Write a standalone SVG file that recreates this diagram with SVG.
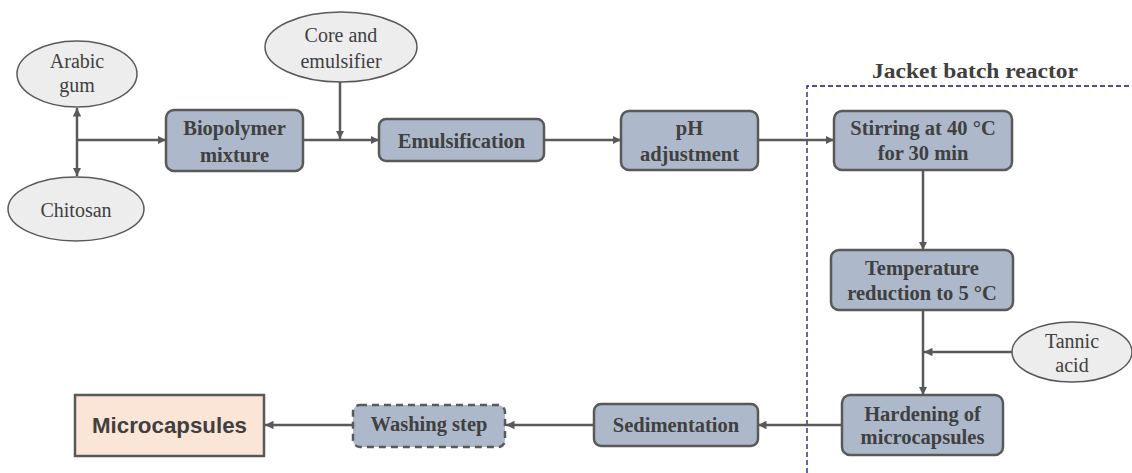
<svg xmlns="http://www.w3.org/2000/svg" width="1132" height="473" viewBox="0 0 1132 473">
<style>
.box{fill:#ADB9CA;stroke:#595959;stroke-width:2.5}
.ell{fill:#EDEDED;stroke:#595959;stroke-width:1.5}
.bt{font-family:"Liberation Serif",serif;font-weight:bold;font-size:20.5px;fill:#404040;text-anchor:middle}
.et{font-family:"Liberation Serif",serif;font-size:20px;fill:#404040;text-anchor:middle}
.c{stroke:#595959;stroke-width:2.5;fill:none}
</style>
<defs>
<marker id="ah" viewBox="0 0 10 10" refX="10" refY="5" markerWidth="3.4" markerHeight="3.4" orient="auto-start-reverse" markerUnits="strokeWidth">
<path d="M0,0 L10,5 L0,10 z" fill="#595959"/>
</marker>
</defs>
<rect width="1132" height="473" fill="#ffffff"/>
<g id="reactor">
<path d="M807,473 V86 H1132" fill="none" stroke="#14148A" stroke-width="1.3" stroke-dasharray="5,3"/>
<text x="975" y="78" font-family="'Liberation Serif',serif" font-weight="bold" font-size="22px" fill="#404040" text-anchor="middle" textLength="206" lengthAdjust="spacingAndGlyphs">Jacket batch reactor</text>
</g>
<g id="connectors">
<line class="c" x1="77" y1="140" x2="77" y2="108" marker-end="url(#ah)"/>
<line class="c" x1="77" y1="140" x2="77" y2="176" marker-end="url(#ah)"/>
<line class="c" x1="77" y1="140" x2="166" y2="140" marker-end="url(#ah)"/>
<line class="c" x1="303" y1="140" x2="379" y2="140" marker-end="url(#ah)"/>
<line class="c" x1="340" y1="82" x2="340" y2="139" marker-end="url(#ah)"/>
<line class="c" x1="544" y1="140" x2="621" y2="140" marker-end="url(#ah)"/>
<line class="c" x1="758" y1="140" x2="834" y2="140" marker-end="url(#ah)"/>
<line class="c" x1="923" y1="170" x2="923" y2="250" marker-end="url(#ah)"/>
<line class="c" x1="923" y1="310" x2="923" y2="395" marker-end="url(#ah)"/>
<line class="c" x1="1012" y1="352" x2="924" y2="352" marker-end="url(#ah)"/>
<line class="c" x1="842" y1="425" x2="758" y2="425" marker-end="url(#ah)"/>
<line class="c" x1="594" y1="425" x2="506" y2="425" marker-end="url(#ah)"/>
<line class="c" x1="353" y1="425" x2="265" y2="425" marker-end="url(#ah)"/>
</g>
<g id="arabic">
<ellipse class="ell" cx="77" cy="74" rx="60" ry="33"/>
<text class="et" x="77" y="68">Arabic</text>
<text class="et" x="77" y="92">gum</text>
</g>
<g id="chitosan">
<ellipse class="ell" cx="76" cy="209" rx="68" ry="32"/>
<text class="et" x="76" y="217">Chitosan</text>
</g>
<g id="core">
<ellipse class="ell" cx="341" cy="47" rx="76" ry="35"/>
<text class="et" x="341" y="42">Core and</text>
<text class="et" x="341" y="68">emulsifier</text>
</g>
<g id="biopolymer">
<rect class="box" x="166" y="110" width="137" height="61" rx="8"/>
<text class="bt" x="234.5" y="135">Biopolymer</text>
<text class="bt" x="234.5" y="162">mixture</text>
</g>
<g id="emulsification">
<rect class="box" x="379" y="119" width="165" height="42" rx="7"/>
<text class="bt" x="461.5" y="148">Emulsification</text>
</g>
<g id="ph">
<rect class="box" x="621" y="111" width="137" height="59" rx="8"/>
<text class="bt" x="689.5" y="135">pH</text>
<text class="bt" x="689.5" y="161">adjustment</text>
</g>
<g id="stirring">
<rect class="box" x="834" y="111" width="178" height="59" rx="8"/>
<text class="bt" x="923" y="135">Stirring at 40 °C</text>
<text class="bt" x="923" y="160">for 30 min</text>
</g>
<g id="temperature">
<rect class="box" x="831" y="250" width="182" height="60" rx="8"/>
<text class="bt" x="922" y="275">Temperature</text>
<text class="bt" x="922" y="300">reduction to 5 °C</text>
</g>
<g id="tannic">
<ellipse class="ell" cx="1072" cy="352" rx="60" ry="30"/>
<text class="et" x="1072" y="348">Tannic</text>
<text class="et" x="1072" y="372">acid</text>
</g>
<g id="hardening">
<rect class="box" x="842" y="395" width="161" height="60" rx="8"/>
<text class="bt" x="922.5" y="421">Hardening of</text>
<text class="bt" x="922.5" y="444">microcapsules</text>
</g>
<g id="sedimentation">
<rect class="box" x="594" y="404" width="164" height="42" rx="7"/>
<text class="bt" x="676" y="432">Sedimentation</text>
</g>
<g id="washing">
<rect class="box" x="353" y="405" width="152" height="42" rx="7" stroke-dasharray="7,5"/>
<text class="bt" x="429" y="431">Washing step</text>
</g>
<g id="microcapsules">
<rect x="75" y="395" width="189" height="61" fill="#FBE5D6" stroke="#595959" stroke-width="2.5"/>
<text x="169.5" y="433" font-family="'Liberation Sans',sans-serif" font-weight="bold" font-size="22px" fill="#404040" text-anchor="middle" textLength="155" lengthAdjust="spacingAndGlyphs">Microcapsules</text>
</g>
</svg>
